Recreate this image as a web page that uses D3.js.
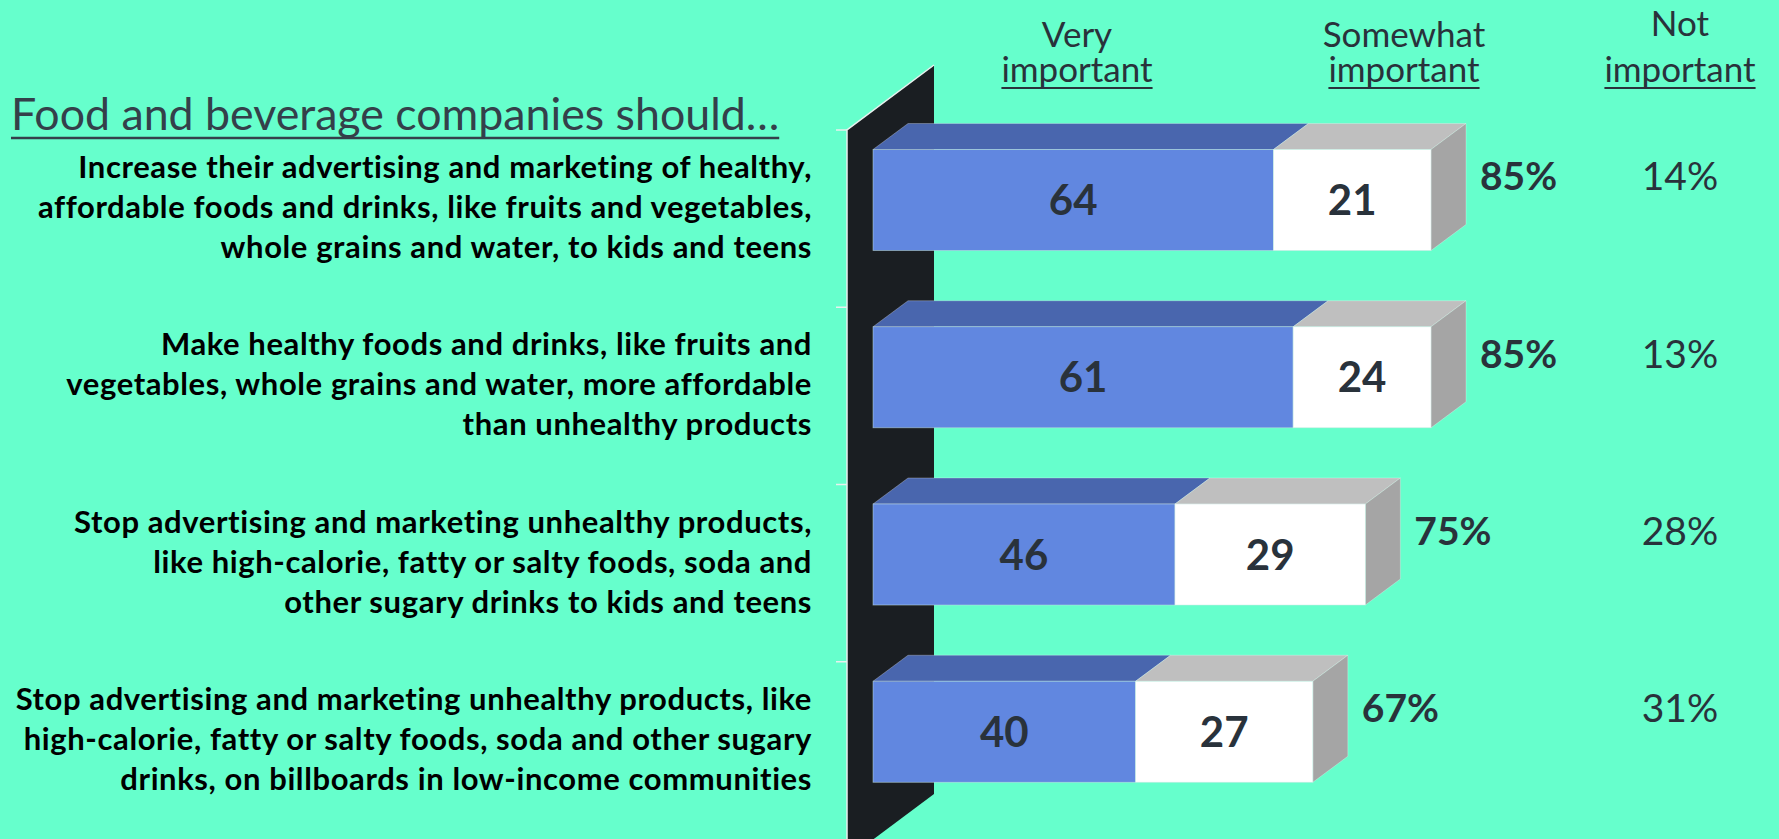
<!DOCTYPE html>
<html>
<head>
<meta charset="utf-8">
<script src="https://cdn.jsdelivr.net/npm/d3@7/dist/d3.min.js"></script>
<style>
  body { margin: 0; background: #66ffcc; }
  svg { display: block; }
  text { font-family: Lato, "Open Sans", sans-serif; }
</style>
</head>
<body>
<div id="chart"></div>
<script>

// statements (one row per statement, already broken into lines)
var statements = [
    ["Increase their advertising and marketing of healthy,",
     "affordable foods and drinks, like fruits and vegetables,",
     "whole grains and water, to kids and teens"],
    ["Make healthy foods and drinks, like fruits and",
     "vegetables, whole grains and water, more affordable",
     "than unhealthy products"],
    ["Stop advertising and marketing unhealthy products,",
     "like high-calorie, fatty or salty foods, soda and",
     "other sugary drinks to kids and teens"],
    ["Stop advertising and marketing unhealthy products, like",
     "high-calorie, fatty or salty foods, soda and other sugary",
     "drinks, on billboards in low-income communities"]
];

// segment lengths as they are drawn in the picture
var veryBars = [61, 64, 46, 40];
var somewhatBars = [24, 21, 29, 27];

// numbers printed on the segments
var veryLabels = [64, 61, 46, 40];
var somewhatLabels = [21, 24, 29, 27];
var notImportant = [14, 13, 28, 31];

var headers = [["Very", "important"], ["Somewhat", "important"], ["Not", "important"]];
var title = "Food and beverage companies should\u2026";

var width = 1779, height = 839;
var depth = { dx: 35, dy: 26 };
var wallDepth = { dx: 87, dy: 65 };
var ink = "#29323b";

var svg = d3.select("#chart").append("svg")
    .attr("width", width)
    .attr("height", height);

svg.append("rect")
    .attr("width", width)
    .attr("height", height)
    .attr("fill", "#66ffcc");

// scales
var x = d3.scaleLinear()
    .domain([0, 85])
    .range([873, 1431]);

var y = d3.scaleBand()
    .domain(d3.range(statements.length))
    .range([130, 839]);

var bw = y.bandwidth();
var barTop = function(i) { return y(i) + bw * 0.11; };
var barH = bw * 0.57;

// left wall of the 3d chart
var wx = 847;
svg.append("path")
    .attr("d", "M" + wx + "," + y.range()[0] +
        "L" + (wx + wallDepth.dx) + "," + (y.range()[0] - wallDepth.dy) +
        "L" + (wx + wallDepth.dx) + "," + (y.range()[1] + 20 - wallDepth.dy) +
        "L" + wx + "," + (y.range()[1] + 20) + "Z")
    .attr("fill", "#1a1e22");

svg.append("path")
    .attr("d", "M" + wx + "," + (y.range()[1] + 20) +
        "L" + wx + "," + y.range()[0] +
        "L" + (wx + wallDepth.dx) + "," + (y.range()[0] - wallDepth.dy))
    .attr("fill", "none")
    .attr("stroke", "#e8f0ee")
    .attr("stroke-width", 1.5);

// category ticks
svg.selectAll(".tick-mark")
    .data(d3.range(statements.length))
    .enter().append("line")
    .attr("class", "tick-mark")
    .attr("x1", wx - 11)
    .attr("x2", wx)
    .attr("y1", function(d) { return y(d); })
    .attr("y2", function(d) { return y(d); })
    .attr("stroke", "#e8f0ee")
    .attr("stroke-width", 1.5);

// stacked segments
var segments = [];
statements.forEach(function(s, i) {
    segments.push({ row: i, x0: 0, x1: veryBars[i], label: veryLabels[i], front: "#6187e0", top: "#4966ae", side: "#3f5a9c", last: false });
    segments.push({ row: i, x0: veryBars[i], x1: veryBars[i] + somewhatBars[i], label: somewhatLabels[i], front: "#ffffff", top: "#bfbfbf", side: "#a5a5a5", last: true });
});

var seg = svg.selectAll(".seg")
    .data(segments)
    .enter().append("g")
    .attr("class", "seg");

seg.append("path")
    .attr("d", function(d) {
        var a = x(d.x0), b = x(d.x1), t = barTop(d.row);
        return "M" + a + "," + t + "L" + (a + depth.dx) + "," + (t - depth.dy) +
            "L" + (b + depth.dx) + "," + (t - depth.dy) + "L" + b + "," + t + "Z";
    })
    .attr("fill", function(d) { return d.top; })
    .attr("stroke", "rgba(255,255,255,0.35)")
    .attr("stroke-width", 0.8);

seg.filter(function(d) { return d.last; }).append("path")
    .attr("d", function(d) {
        var b = x(d.x1), t = barTop(d.row);
        return "M" + b + "," + t + "L" + (b + depth.dx) + "," + (t - depth.dy) +
            "L" + (b + depth.dx) + "," + (t + barH - depth.dy) + "L" + b + "," + (t + barH) + "Z";
    })
    .attr("fill", function(d) { return d.side; })
    .attr("stroke", "rgba(255,255,255,0.35)")
    .attr("stroke-width", 0.8);

seg.append("rect")
    .attr("x", function(d) { return x(d.x0); })
    .attr("y", function(d) { return barTop(d.row); })
    .attr("width", function(d) { return x(d.x1) - x(d.x0); })
    .attr("height", barH)
    .attr("fill", function(d) { return d.front; })
    .attr("stroke", "rgba(200,230,225,0.6)")
    .attr("stroke-width", 0.8);

seg.append("text")
    .attr("x", function(d) { return (x(d.x0) + x(d.x1)) / 2; })
    .attr("y", function(d) { return barTop(d.row) + barH / 2; })
    .attr("dy", "0.36em")
    .attr("text-anchor", "middle")
    .attr("font-size", 42)
    .attr("font-weight", "bold")
    .attr("fill", ink)
    .text(function(d) { return d.label; });

// totals (very + somewhat)
svg.selectAll(".total")
    .data(statements)
    .enter().append("text")
    .attr("class", "total")
    .attr("x", function(d, i) { return x(veryBars[i] + somewhatBars[i]) + depth.dx + 14; })
    .attr("y", function(d, i) { return barTop(i) + 41; })
    .attr("font-size", 39)
    .attr("font-weight", "bold")
    .attr("fill", ink)
    .text(function(d, i) { return (veryLabels[i] + somewhatLabels[i]) + "%"; });

// not important column
svg.selectAll(".not")
    .data(notImportant)
    .enter().append("text")
    .attr("class", "not")
    .attr("x", 1680)
    .attr("y", function(d, i) { return barTop(i) + 41; })
    .attr("text-anchor", "middle")
    .attr("font-size", 39)
    .attr("fill", ink)
    .text(function(d) { return d + "%"; });

// column headers (two lines in one text, second line underlined)
var headerX = [1077, 1404, 1680];
var headerY = [47, 47, 36];
headers.forEach(function(h, i) {
    var t = svg.append("text")
        .attr("text-anchor", "middle")
        .attr("font-size", 35)
        .attr("fill", ink);
    t.append("tspan")
        .attr("x", headerX[i])
        .attr("y", headerY[i])
        .text(h[0]);
    var second = t.append("tspan")
        .attr("x", headerX[i])
        .attr("y", 82)
        .text(h[1]);
    var w = second.node().getComputedTextLength();
    svg.append("line")
        .attr("x1", headerX[i] - w / 2)
        .attr("x2", headerX[i] + w / 2)
        .attr("y1", 88)
        .attr("y2", 88)
        .attr("stroke", ink)
        .attr("stroke-width", 2);
});

// title
var tt = svg.append("text")
    .attr("x", 11)
    .attr("y", 130)
    .attr("font-size", 44.7)
    .attr("fill", "#34404a")
    .text(title);
svg.append("line")
    .attr("x1", 11)
    .attr("x2", 11 + tt.node().getComputedTextLength())
    .attr("y1", 138)
    .attr("y2", 138)
    .attr("stroke", "#34404a")
    .attr("stroke-width", 2.5);

// statement labels
var lab = svg.selectAll(".label")
    .data(statements)
    .enter().append("text")
    .attr("class", "label")
    .attr("text-anchor", "end")
    .attr("font-size", 31)
    .attr("letter-spacing", 0.6)
    .attr("font-weight", "bold")
    .attr("fill", "#000");

lab.selectAll("tspan")
    .data(function(d, i) { return d.map(function(l, k) { return { line: l, row: i, k: k }; }); })
    .enter().append("tspan")
    .attr("x", 812)
    .attr("y", function(d) { return y(d.row) + 48 + d.k * 40; })
    .text(function(d) { return d.line; });

</script>
</body>
</html>
